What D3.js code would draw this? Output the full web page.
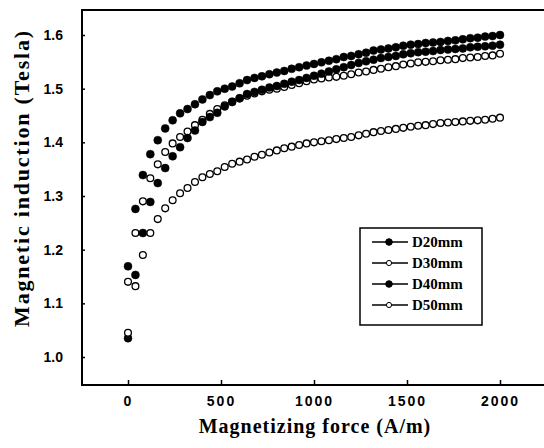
<!DOCTYPE html>
<html>
<head>
<meta charset="utf-8">
<script src="https://cdn.jsdelivr.net/npm/d3@7"></script>
<style>
  body { margin: 0; background: #fff; }
  .tick-label { font-family: "Liberation Sans", Arial, sans-serif; font-weight: bold; font-size: 14px; }
  .axis-title { font-family: "Liberation Serif", "Times New Roman", serif; font-weight: bold; }
  .legend-text { font-family: "Liberation Serif", "Times New Roman", serif; font-weight: bold; font-size: 15px; }
</style>
</head>
<body>
<div id="chart"></div>
<script>
var svgWidth = 544;
var svgHeight = 448;

// magnetizing force, A/m (step 40)
var force = d3.range(0, 2001, 40);

var d20 = [1.169, 1.276, 1.339, 1.378, 1.404, 1.426, 1.441, 1.454, 1.462, 1.471,
  1.480, 1.488, 1.495, 1.500, 1.504, 1.510, 1.516, 1.520, 1.523, 1.527,
  1.530, 1.533, 1.537, 1.540, 1.543, 1.546, 1.549, 1.552, 1.555, 1.559,
  1.561, 1.564, 1.567, 1.571, 1.573, 1.575, 1.577, 1.580, 1.582, 1.583,
  1.585, 1.586, 1.587, 1.589, 1.590, 1.592, 1.594, 1.595, 1.597, 1.598, 1.600];

var d30 = [1.140, 1.231, 1.290, 1.333, 1.359, 1.382, 1.398, 1.410, 1.420, 1.432,
  1.442, 1.453, 1.462, 1.469, 1.476, 1.482, 1.487, 1.491, 1.495, 1.498,
  1.500, 1.503, 1.507, 1.510, 1.514, 1.517, 1.519, 1.521, 1.522, 1.524,
  1.527, 1.530, 1.532, 1.535, 1.537, 1.540, 1.542, 1.545, 1.547, 1.549,
  1.550, 1.551, 1.553, 1.554, 1.555, 1.557, 1.558, 1.559, 1.561, 1.562, 1.565];

var d40 = [1.035, 1.153, 1.231, 1.289, 1.324, 1.352, 1.374, 1.391, 1.408, 1.422,
  1.438, 1.447, 1.455, 1.467, 1.475, 1.482, 1.490, 1.494, 1.498, 1.502,
  1.505, 1.509, 1.513, 1.516, 1.520, 1.524, 1.528, 1.532, 1.536, 1.540,
  1.544, 1.548, 1.551, 1.554, 1.557, 1.559, 1.561, 1.564, 1.566, 1.568,
  1.569, 1.570, 1.572, 1.573, 1.574, 1.575, 1.577, 1.578, 1.579, 1.580, 1.582];

var d50 = [1.045, 1.132, 1.190, 1.231, 1.257, 1.277, 1.292, 1.305, 1.315, 1.326,
  1.335, 1.341, 1.346, 1.354, 1.360, 1.364, 1.368, 1.373, 1.377, 1.381,
  1.385, 1.389, 1.392, 1.395, 1.398, 1.400, 1.402, 1.404, 1.406, 1.408,
  1.410, 1.413, 1.416, 1.419, 1.421, 1.423, 1.425, 1.427, 1.429, 1.431,
  1.432, 1.434, 1.436, 1.437, 1.438, 1.439, 1.440, 1.441, 1.442, 1.444, 1.446];

var seriesNames = ["D20mm", "D30mm", "D40mm", "D50mm"];
var seriesFilled = [true, false, true, false];
var seriesValues = [d20, d30, d40, d50];

var xTicks = [0, 500, 1000, 1500, 2000];
var yTicks = [1.0, 1.1, 1.2, 1.3, 1.4, 1.5, 1.6];

var frame = { left: 82, top: 10, bottom: 385, right: 560 };

var svg = d3.select("#chart")
  .append("svg")
  .attr("width", svgWidth)
  .attr("height", svgHeight);

var xScale = d3.scaleLinear().domain([0, 2000]).range([128, 500]);
var yScale = d3.scaleLinear().domain([1.0, 1.6]).range([357, 35]);

// frame (right side runs off the picture)
svg.append("path")
  .attr("d", `M${frame.right},${frame.top}H${frame.left}V${frame.bottom}H${frame.right}`)
  .attr("fill", "none")
  .attr("stroke", "#000")
  .attr("stroke-width", 2);

// x axis ticks (inward)
var bottomAxis = d3.axisBottom(xScale)
  .tickValues(xTicks)
  .tickSizeInner(-5)
  .tickSizeOuter(0)
  .tickPadding(11)
  .tickFormat(d3.format("d"));

var xAxis = svg.append("g")
  .attr("transform", `translate(0, ${frame.bottom})`)
  .call(bottomAxis);
xAxis.select(".domain").remove();
xAxis.selectAll("line").attr("stroke-width", 1.5);
xAxis.selectAll("text")
  .attr("class", "tick-label")
  .attr("fill", "#000")
  .style("letter-spacing", "2px");

var leftAxis = d3.axisLeft(yScale)
  .tickValues(yTicks)
  .tickSizeInner(-3)
  .tickSizeOuter(0)
  .tickPadding(19)
  .tickFormat(d3.format(".1f"));

var yAxis = svg.append("g")
  .attr("transform", `translate(${frame.left}, 0)`)
  .call(leftAxis);
yAxis.select(".domain").remove();
yAxis.selectAll("line").attr("stroke-width", 1.5);
yAxis.selectAll("text")
  .attr("class", "tick-label")
  .attr("fill", "#000");

// axis titles
svg.append("text")
  .attr("class", "axis-title")
  .attr("x", 315)
  .attr("y", 433)
  .attr("text-anchor", "middle")
  .style("font-size", "20px")
  .style("letter-spacing", "1px")
  .text("Magnetizing force (A/m)");

svg.append("text")
  .attr("class", "axis-title")
  .attr("transform", "translate(29, 178) rotate(-90)")
  .attr("text-anchor", "middle")
  .style("font-size", "22px")
  .style("letter-spacing", "1.8px")
  .text("Magnetic induction (Tesla)");

// points
seriesValues.forEach(function(vals, i) {
  var pts = force.map(function(f, j) { return { x: f, y: vals[j] }; });
  svg.append("g")
    .selectAll("circle")
    .data(pts)
    .enter()
    .append("circle")
    .attr("cx", d => xScale(d.x))
    .attr("cy", d => yScale(d.y))
    .attr("r", seriesFilled[i] ? 4 : 3.4)
    .attr("fill", seriesFilled[i] ? "#000" : "#fff")
    .attr("stroke", "#000")
    .attr("stroke-width", seriesFilled[i] ? 0.5 : 1.3);
});

// legend
var legend = svg.append("g");
legend.append("rect")
  .attr("x", 360)
  .attr("y", 228)
  .attr("width", 122)
  .attr("height", 97)
  .attr("fill", "#fff")
  .attr("stroke", "#000")
  .attr("stroke-width", 1.5);

var legendRows = legend.selectAll(".legend-row")
  .data(seriesNames)
  .enter()
  .append("g")
  .attr("class", "legend-row")
  .attr("transform", (d, i) => `translate(0, ${242 + i * 21})`);

legendRows.append("line")
  .attr("x1", 372)
  .attr("x2", 408)
  .attr("y1", 0)
  .attr("y2", 0)
  .attr("stroke", "#000")
  .attr("stroke-width", 1.5);

legendRows.append("circle")
  .attr("cx", 389)
  .attr("cy", 0)
  .attr("r", (d, i) => seriesFilled[i] ? 3.3 : 2.6)
  .attr("fill", (d, i) => seriesFilled[i] ? "#000" : "#fff")
  .attr("stroke", "#000")
  .attr("stroke-width", 1);

legendRows.append("text")
  .attr("class", "legend-text")
  .attr("x", 412)
  .attr("y", 5)
  .text(d => d);
</script>
</body>
</html>
